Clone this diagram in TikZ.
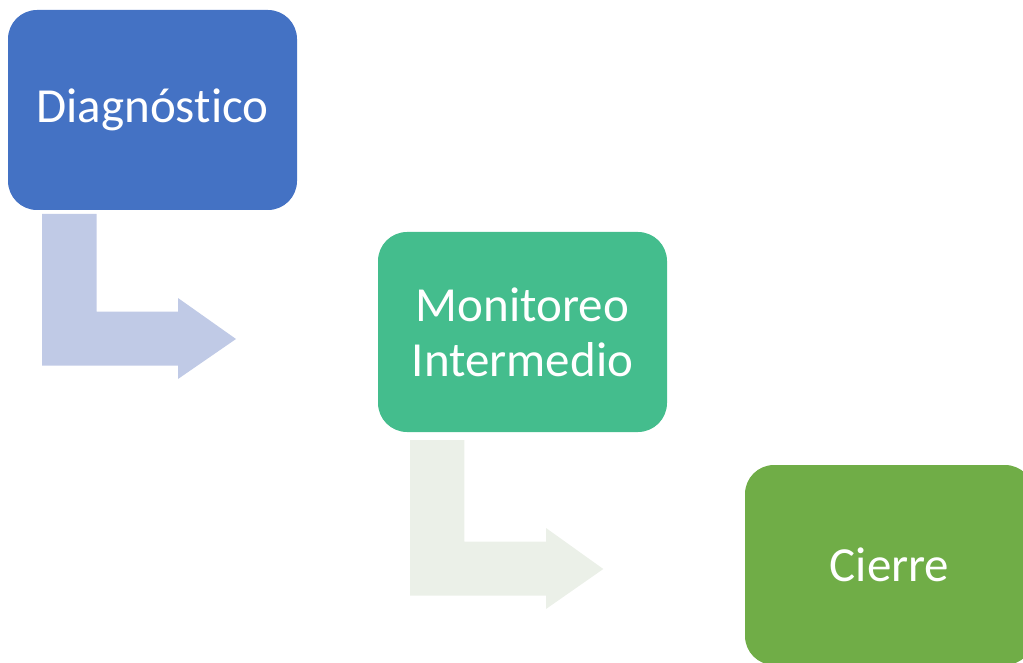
\documentclass[tikz,border=0pt]{standalone}
\usepackage{fontspec}
\setmainfont[Ligatures={NoCommon}]{Carlito}
\definecolor{boxblue}{HTML}{4472C4}
\definecolor{boxteal}{HTML}{44BD8D}
\definecolor{boxgreen}{HTML}{70AD47}
\definecolor{arrowblue}{HTML}{C0CAE6}
\definecolor{arrowgreen}{HTML}{EBF0E8}
\tikzset{
  stagebox/.style={rounded corners=29pt, minimum width=289pt, minimum height=200pt,
    inner sep=0pt, text=white, align=center, font=\fontsize{49}{55}\selectfont},
}
\begin{document}
\begin{tikzpicture}[x=1pt,y=-1pt]
\useasboundingbox (0,0) rectangle (1023,663);
\clip (0,0) rectangle (1023,663);
% bent arrows
\fill[arrowblue] (42,214) -- (96.7,214) -- (96.7,311.7) -- (178,311.7) -- (178,298) -- (236,339) -- (178,379) -- (178,365.7) -- (42,365.7) -- cycle;
\fill[arrowgreen] (410,440) -- (464.3,440) -- (464.3,541.7) -- (546,541.7) -- (546,528) -- (603.3,569) -- (546,609) -- (546,595.7) -- (410,595.7) -- cycle;
% boxes
\node[stagebox, fill=boxblue] (diag) at (152.5,110) {Diagnóstico};
\node[stagebox, fill=boxteal] (mon) at (522.5,332) {Monitoreo\\Intermedio};
\node[stagebox, fill=boxgreen] (cierre) at (889.5,565) {Cierre};
\end{tikzpicture}
\end{document}
